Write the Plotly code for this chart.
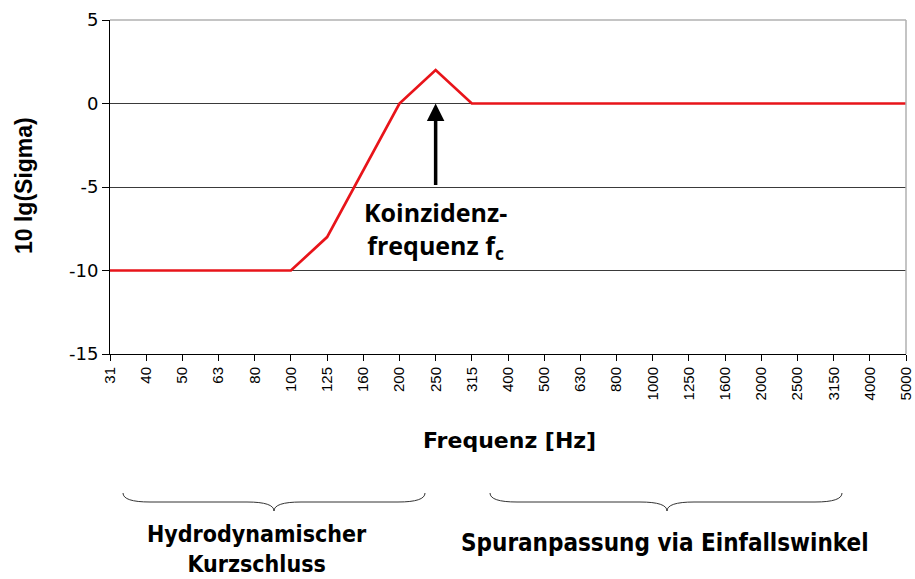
import plotly.graph_objects as go

freq_labels = ["31", "40", "50", "63", "80", "100", "125", "160", "200", "250", "315",
               "400", "500", "630", "800", "1000", "1250", "1600", "2000", "2500",
               "3150", "4000", "5000"]
sigma_db = [-10, -10, -10, -10, -10, -10, -8, -4, 0, 2, 0,
            0, 0, 0, 0, 0, 0, 0, 0, 0, 0, 0, 0]
y_ticks = [5, 0, -5, -10, -15]
y_ticktext = [str(v) for v in y_ticks]

fc_label = "250"
region_labels = ["Hydrodynamischer<br>Kurzschluss", "Spuranpassung via Einfallswinkel"]

fc_idx = freq_labels.index(fc_label)

fig = go.Figure()
fig.add_trace(go.Scatter(x=freq_labels, y=sigma_db, mode="lines",
                         line=dict(color="#e8141a", width=2.7), showlegend=False))

W, H = 915, 579
L, R, T, B = 110, 9, 20, 225

def px(x):
    return (x - L) / (W - L - R)

def py(y):
    return (H - B - y) / (H - T - B)

fig.update_layout(
    width=W, height=H,
    margin=dict(l=L, r=R, t=T, b=B, autoexpand=False),
    paper_bgcolor="white", plot_bgcolor="white",
    font=dict(family="Liberation Sans, Arial, sans-serif", color="black"),
    xaxis=dict(type="category", range=[0, len(freq_labels) - 1], automargin=False,
               showgrid=False, showline=True, linecolor="black", linewidth=1,
               ticks="outside", ticklen=6, tickcolor="black", tickangle=-90,
               tickfont=dict(family="Liberation Sans, Arial, sans-serif", size=15),
               zeroline=False),
    yaxis=dict(range=[-15, 5], tickvals=y_ticks, ticktext=y_ticktext, automargin=False,
               showgrid=True, gridcolor="#3a3a3a",
               gridwidth=1, showline=True, linecolor="black", linewidth=1,
               ticks="outside", ticklen=7, tickcolor="black",
               tickfont=dict(family="DejaVu Sans, sans-serif", size=18),
               zeroline=False),
)

# axis titles
fig.add_annotation(x=px(24), y=py(186), xref="paper", yref="paper", showarrow=False,
                   xanchor="center", yanchor="middle",
                   text="<b>10 lg(Sigma)</b>", textangle=-90,
                   font=dict(family="Liberation Sans, Arial, sans-serif", size=23))
fig.add_annotation(x=px(510), y=py(440), xref="paper", yref="paper", showarrow=False,
                   xanchor="center", yanchor="middle",
                   text="<b>Frequenz [Hz]</b>",
                   font=dict(family="DejaVu Sans, sans-serif", size=22))

# top and right frame lines (light gray)
fig.add_shape(type="line", xref="paper", yref="paper", x0=0, x1=1, y0=1, y1=1,
              line=dict(color="#b0b0b0", width=1.5))
fig.add_shape(type="line", xref="paper", yref="paper", x0=1, x1=1, y0=0, y1=1,
              line=dict(color="#b0b0b0", width=1.5))

# arrow to coincidence frequency
fig.add_annotation(x=fc_idx, y=0, ax=fc_idx, ay=-5, xref="x", yref="y",
                   axref="x", ayref="y", showarrow=True, arrowhead=2,
                   arrowsize=1, arrowwidth=3.5, arrowcolor="black", text=" ",
                   font=dict(size=1), standoff=0)
fig.add_annotation(x=fc_idx, y=-7.6, xref="x", yref="y", showarrow=False,
                   xanchor="center", yanchor="middle",
                   text="<b>Koinzidenz-<br>frequenz f<sub>c</sub></b>",
                   font=dict(family="Open Sans, sans-serif", size=25, color="black"),
                   align="center")

# braces
def brace(x0, x1, xm, ytop, ybot, ytip):
    r = 9
    return (f"M {px(x0)} {py(ytop)} "
            f"Q {px(x0)} {py(ybot)} {px(x0 + 3 * r)} {py(ybot)} "
            f"L {px(xm - 3 * r)} {py(ybot)} "
            f"Q {px(xm)} {py(ybot)} {px(xm)} {py(ytip)} "
            f"Q {px(xm)} {py(ybot)} {px(xm + 3 * r)} {py(ybot)} "
            f"L {px(x1 - 3 * r)} {py(ybot)} "
            f"Q {px(x1)} {py(ybot)} {px(x1)} {py(ytop)}")

fig.add_shape(type="path", xref="paper", yref="paper",
              path=brace(123, 425, 274, 493, 502, 511),
              line=dict(color="#333", width=1))
fig.add_shape(type="path", xref="paper", yref="paper",
              path=brace(490, 842, 667, 493, 502, 511),
              line=dict(color="#333", width=1))

narrow = "Liberation Sans Narrow, Arial Narrow, DejaVu Sans Condensed, sans-serif"
fig.add_annotation(x=px(257), y=py(549), xref="paper", yref="paper", showarrow=False,
                   xanchor="center", yanchor="middle",
                   text="<b>" + region_labels[0] + "</b>", align="center",
                   font=dict(family=narrow, size=23, color="black"))
fig.add_annotation(x=px(665), y=py(543), xref="paper", yref="paper", showarrow=False,
                   xanchor="center", yanchor="middle",
                   text="<b>" + region_labels[1] + "</b>", align="center",
                   font=dict(family=narrow, size=24, color="black"))

fig.write_html("out.html", config={"displayModeBar": False},
               post_script="document.body.style.margin='0';document.body.style.padding='0';")
